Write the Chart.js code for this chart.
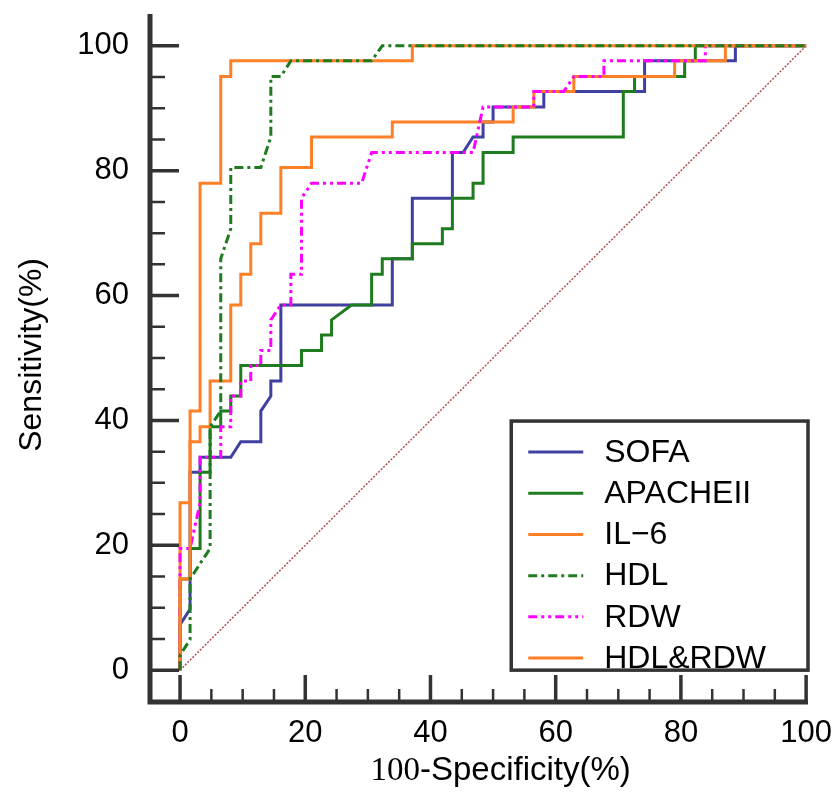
<!DOCTYPE html>
<html lang="en">
<head>
<meta charset="utf-8">
<title>ROC curves</title>
<script src="https://cdn.jsdelivr.net/npm/chart.js@4.4.1/dist/chart.umd.min.js"></script>
<style>
  body { margin: 0; background: #fff; }
  #wrap { width: 840px; height: 794px; }
</style>
</head>
<body>
<div id="wrap"><canvas id="roc" width="840" height="794"></canvas></div>
<script>
// ROC points: [100-specificity, sensitivity]
const sofa = [[0,0],[0,7.3],[1.6,9.8],[1.6,31.7],[3.2,31.7],[3.2,34.1],[8.1,34.1],[9.7,36.6],[12.9,36.6],[12.9,41.5],[14.5,43.9],[14.5,46.3],[16.1,46.3],[16.1,58.5],[33.9,58.5],[33.9,65.9],[37.1,65.9],[37.1,75.6],[43.5,75.6],[43.5,82.9],[45.2,82.9],[46.8,85.4],[48.4,85.4],[48.4,87.8],[50,87.8],[50,90.2],[58.1,90.2],[58.1,92.7],[74.2,92.7],[74.2,97.6],[88.7,97.6],[88.7,100],[100,100]];
const apache = [[0,0],[0,14.6],[1.6,14.6],[1.6,19.5],[3.2,19.5],[3.2,31.7],[4.8,31.7],[4.8,39],[6.5,39],[6.5,41.5],[8.1,41.5],[8.1,43.9],[9.7,43.9],[9.7,48.8],[19.4,48.8],[19.4,51.2],[22.6,51.2],[22.6,53.7],[24.2,53.7],[24.2,56.1],[27.4,58.5],[30.6,58.5],[30.6,63.4],[32.3,63.4],[32.3,65.9],[37.1,65.9],[37.1,68.3],[41.9,68.3],[41.9,70.7],[43.5,70.7],[43.5,75.6],[46.8,75.6],[46.8,78],[48.4,78],[48.4,82.9],[53.2,82.9],[53.2,85.4],[70.8,85.4],[70.8,92.7],[72.6,92.7],[72.6,95.1],[80.6,95.1],[80.6,97.6],[82.3,97.6],[82.3,100],[100,100]];
const il6 = [[0,0],[0,26.8],[1.6,26.8],[1.6,36.6],[3.2,36.6],[3.2,39],[4.8,39],[4.8,46.3],[8.1,46.3],[8.1,58.5],[9.7,58.5],[9.7,63.4],[11.3,63.4],[11.3,68.3],[12.9,68.3],[12.9,73.2],[16.1,73.2],[16.1,80.5],[21,80.5],[21,85.4],[33.9,85.4],[33.9,87.8],[53.2,87.8],[53.2,90.2],[56.5,90.2],[56.5,92.7],[62.9,92.7],[62.9,95.1],[79,95.1],[79,97.6],[87.1,97.6],[87.1,100],[100,100]];
const hdl = [[0,0],[0,2.4],[1.6,4.9],[1.6,14.6],[4.8,19.5],[4.8,39],[6.5,41.5],[6.5,65.9],[8.1,70.7],[8.1,80.5],[12.9,80.5],[14.5,85.4],[14.5,95.1],[16.1,95.1],[17.7,97.6],[30.6,97.6],[32.3,100],[100,100]];
const rdw = [[0,0],[0,19.5],[1.6,19.5],[3.2,26.8],[3.2,34.1],[6.5,34.1],[6.5,39],[8.1,39],[8.1,43.9],[9.7,43.9],[9.7,46.3],[11.3,46.3],[11.3,48.8],[12.9,48.8],[12.9,51.2],[14.5,51.2],[14.5,56.1],[16.1,58.5],[17.7,58.5],[17.7,63.4],[19.4,63.4],[19.4,75.6],[21,78],[29,78],[30.6,82.9],[46.8,82.9],[48.4,90.2],[56.5,90.2],[56.5,92.7],[61.3,92.7],[62.9,95.1],[67.7,95.1],[67.7,97.6],[83.9,97.6],[83.9,100],[100,100]];
const hdlRdw = [[0,0],[0,14.6],[1.6,14.6],[1.6,41.5],[3.2,41.5],[3.2,78],[6.5,78],[6.5,95.1],[8.1,95.1],[8.1,97.6],[37.1,97.6],[37.1,100],[100,100]];
const diagonal = [[0,0],[100,100]];

const seriesNames = ['SOFA', 'APACHEII', 'IL\u22126', 'HDL', 'RDW', 'HDL&RDW'];
const seriesData = [sofa, apache, il6, hdl, rdw, hdlRdw];
const xTicks = [0, 20, 40, 60, 80, 100];
const yTicks = [0, 20, 40, 60, 80, 100];

const SANS = "'Liberation Sans', Arial, sans-serif";
const SERIF = "'Liberation Serif', 'Times New Roman', serif";

// drawing styles, lower order is drawn on top
const seriesStyle = [
    { color: '#4040a0', dash: [], order: 5 },
    { color: '#1e7b1e', dash: [], order: 4 },
    { color: '#ff7f27', dash: [], order: 3 },
    { color: '#1e7b1e', dash: [9, 4, 3, 4], order: 0 },
    { color: '#ff00ff', dash: [9, 4, 3, 4, 3, 4], order: 2 },
    { color: '#ff7f27', dash: [], order: 1 },
];

const toPoints = arr => arr.map(([x, y]) => ({ x, y }));

const datasets = seriesData.map((d, i) => ({
    label: seriesNames[i],
    data: toPoints(d),
    borderColor: seriesStyle[i].color,
    borderDash: seriesStyle[i].dash,
    borderWidth: 3,
    order: seriesStyle[i].order,
}));
datasets.push({
    label: 'reference',
    data: toPoints(diagonal),
    borderColor: '#b05050',
    borderDash: [2, 1.5],
    borderWidth: 1.5,
    order: 10,
});

// axis lines, inward ticks, titles and the boxed legend
const rocFrame = {
    id: 'rocFrame',
    afterDraw(chart) {
        const { ctx, chartArea: a, scales: { x, y } } = chart;
        ctx.save();
        ctx.strokeStyle = '#333';
        ctx.lineWidth = 5;
        ctx.beginPath();
        ctx.moveTo(a.left, a.top);
        ctx.lineTo(a.left, a.bottom + 2.5);
        ctx.moveTo(a.left - 2.5, a.bottom);
        ctx.lineTo(a.right, a.bottom);
        ctx.stroke();

        for (let v = 0; v <= 100; v += 5) {
            const major = v % 20 === 0;
            ctx.lineWidth = major ? 3.5 : 2.5;
            const px = x.getPixelForValue(v);
            const py = y.getPixelForValue(v);
            ctx.beginPath();
            ctx.moveTo(px, a.bottom);
            ctx.lineTo(px, a.bottom - (major ? 27 : 13));
            ctx.moveTo(a.left, py);
            ctx.lineTo(a.left + (major ? 29 : 15), py);
            ctx.stroke();
        }

        // x title: the "100" is set in a serif face in the original
        ctx.fillStyle = '#000';
        ctx.textBaseline = 'middle';
        const part1 = '100', part2 = '-Specificity(%)';
        ctx.font = '33px ' + SERIF;
        const w1 = ctx.measureText(part1).width;
        ctx.font = '33px ' + SANS;
        const w2 = ctx.measureText(part2).width;
        const cx = x.getPixelForValue(51.2);
        const ty = 771;
        let sx = cx - (w1 + w2) / 2;
        ctx.textAlign = 'left';
        ctx.font = '33px ' + SERIF;
        ctx.fillText(part1, sx, ty);
        ctx.font = '33px ' + SANS;
        ctx.fillText(part2, sx + w1, ty);

        // y title
        ctx.save();
        ctx.translate(32, y.getPixelForValue(50.5));
        ctx.rotate(-Math.PI / 2);
        ctx.textAlign = 'center';
        ctx.font = '32px ' + SANS;
        ctx.fillText('Sensitivity(%)', 0, 0);
        ctx.restore();

        // legend box
        const lx = x.getPixelForValue(52.9), rx = a.right;
        const ly = y.getPixelForValue(39.9), by = y.getPixelForValue(0);
        ctx.fillStyle = '#fff';
        ctx.fillRect(lx, ly, rx - lx, by - ly);
        ctx.lineWidth = 3.5;
        ctx.strokeStyle = '#333';
        ctx.setLineDash([]);
        ctx.strokeRect(lx, ly, rx - lx, by - ly);
        ctx.font = '32px ' + SANS;
        ctx.textAlign = 'left';
        seriesNames.forEach((name, i) => {
            const rowY = ly + 31 + i * 41.2;
            ctx.strokeStyle = seriesStyle[i].color;
            ctx.lineWidth = 3;
            ctx.setLineDash(seriesStyle[i].dash);
            ctx.beginPath();
            ctx.moveTo(lx + 17, rowY);
            ctx.lineTo(lx + 72, rowY);
            ctx.stroke();
            ctx.fillStyle = '#000';
            ctx.fillText(name, lx + 93, rowY + 1);
        });
        ctx.restore();
    }
};

new Chart(document.getElementById('roc'), {
    type: 'line',
    data: { datasets },
    options: {
        responsive: false,
        devicePixelRatio: 1,
        animation: false,
        layout: { padding: { top: 14, right: 32, left: 0, bottom: 0 } },
        elements: { point: { radius: 0 }, line: { tension: 0 } },
        plugins: { legend: { display: false }, tooltip: { enabled: false } },
        scales: {
            x: {
                type: 'linear',
                min: -4.8,
                max: 100.3,
                grid: { display: false },
                border: { display: false },
                afterBuildTicks: s => { s.ticks = xTicks.map(v => ({ value: v })); },
                afterFit: s => { s.height = 92; s.paddingLeft = 0; s.paddingRight = 0; },
                ticks: {
                    color: '#000',
                    font: { family: SANS, size: 31 },
                    padding: 5,
                    maxRotation: 0,
                    autoSkip: false,
                },
            },
            y: {
                type: 'linear',
                min: -5.1,
                max: 105.1,
                grid: { display: false },
                border: { display: false },
                afterBuildTicks: s => { s.ticks = yTicks.map(v => ({ value: v })); },
                afterFit: s => { s.width = 150; s.paddingTop = 0; s.paddingBottom = 0; },
                ticks: {
                    color: '#000',
                    font: { family: SANS, size: 31 },
                    padding: 13,
                    autoSkip: false,
                },
            },
        },
    },
    plugins: [rocFrame],
});
</script>
</body>
</html>
